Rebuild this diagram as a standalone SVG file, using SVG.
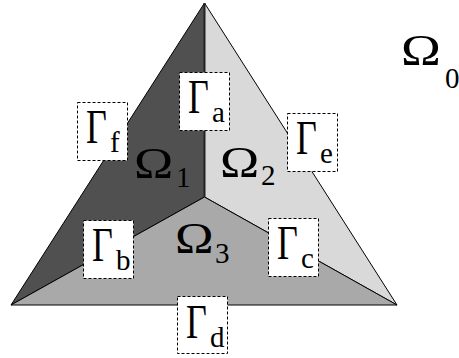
<svg xmlns="http://www.w3.org/2000/svg" width="459" height="358" viewBox="0 0 459 358">
<style>
.reg{stroke:#000;stroke-width:1;stroke-linejoin:round}
.box{fill:#fff;stroke:#000;stroke-width:1;stroke-dasharray:3,2}
text{font-family:"Liberation Serif","Times New Roman",serif;fill:#000}
.G{font-size:48px}
.O{font-size:44px}
.s{font-size:29px}
</style>
<rect width="459" height="358" fill="#fff"/>
<g id="omega1"><polygon class="reg" points="204.5,3 204.5,197 11,305" fill="#505050"/></g>
<g id="omega2"><polygon class="reg" points="204.5,3 397,305 204.5,197" fill="#d9d9d9"/></g>
<g id="omega3"><polygon class="reg" points="204.5,197 397,305 11,305" fill="#a9a9a9"/></g>
<g id="edges"><line x1="204.5" y1="3" x2="204.5" y2="197" stroke="#222" stroke-width="2"/></g>

<g id="label-omega0"><text class="O" transform="translate(401,65) scale(1.22,1)">Ω</text><text class="s" x="445" y="88">0</text></g>
<g id="label-omega1"><text class="O" transform="translate(134,178) scale(1.2,1)">Ω</text><text class="s" x="176" y="187">1</text></g>
<g id="label-omega2"><text class="O" transform="translate(220,177) scale(1.2,1)">Ω</text><text class="s" x="261" y="185">2</text></g>
<g id="label-omega3"><text class="O" transform="translate(175,253) scale(1.18,1)">Ω</text><text class="s" x="215" y="263">3</text></g>

<g id="gamma-a"><rect class="box" x="179.5" y="72.5" width="50" height="58"/><text class="G" transform="translate(188,113) scale(0.75,1)">Γ</text><text class="s" x="212" y="122">a</text></g>
<g id="gamma-f"><rect class="box" x="77.5" y="102.5" width="50" height="58"/><text class="G" transform="translate(86,143) scale(0.75,1)">Γ</text><text class="s" x="110" y="152">f</text></g>
<g id="gamma-e"><rect class="box" x="287.5" y="113.5" width="50" height="58"/><text class="G" transform="translate(296,154) scale(0.75,1)">Γ</text><text class="s" x="320" y="163">e</text></g>
<g id="gamma-b"><rect class="box" x="83.5" y="220.5" width="50" height="58"/><text class="G" transform="translate(92,261) scale(0.75,1)">Γ</text><text class="s" x="116" y="270">b</text></g>
<g id="gamma-c"><rect class="box" x="268.5" y="218.5" width="50" height="58"/><text class="G" transform="translate(277,259) scale(0.75,1)">Γ</text><text class="s" x="301" y="268">c</text></g>
<g id="gamma-d"><rect class="box" x="177.5" y="296.5" width="50" height="57"/><text class="G" transform="translate(186,338) scale(0.75,1)">Γ</text><text class="s" x="210" y="347">d</text></g>
</svg>
